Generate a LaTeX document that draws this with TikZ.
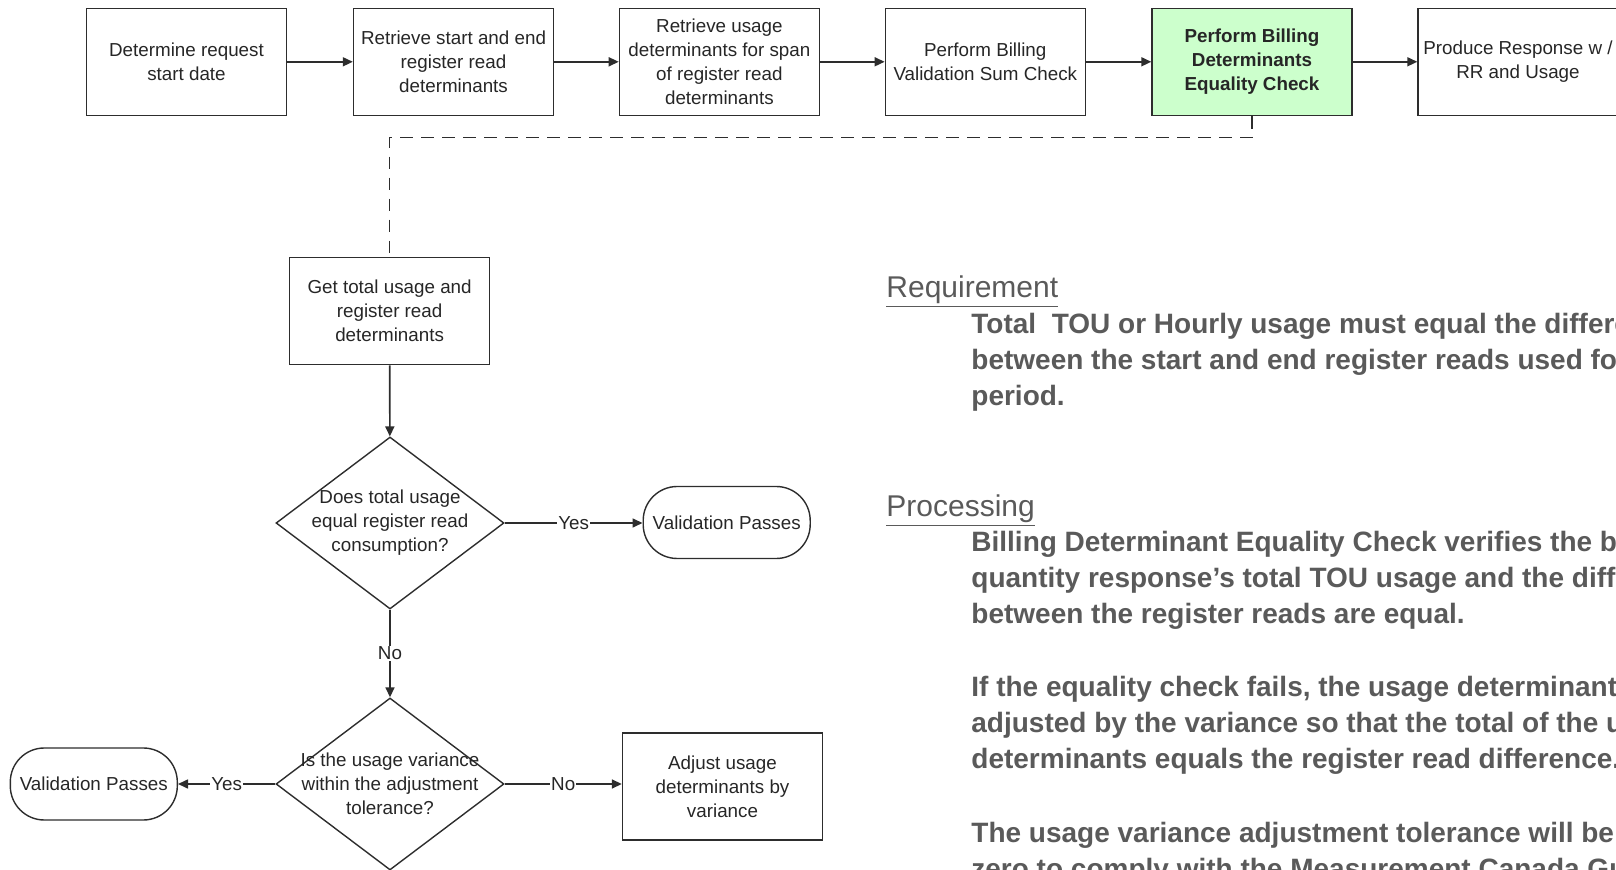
\documentclass[tikz,border=0pt]{standalone}
\usepackage{fontspec}
\setmainfont{Liberation Sans}
\usetikzlibrary{arrows.meta,shapes.geometric}
\definecolor{boxgreen}{RGB}{204,255,204}
\definecolor{linegray}{RGB}{45,45,45}
\definecolor{notegray}{RGB}{90,90,90}

\begin{document}
\begin{tikzpicture}[x=0.5pt,y=-0.5pt,
	every node/.style={font=\fontsize{9.4}{12}\selectfont,text=black!85,align=center},
	process/.style={draw=linegray,line width=0.7pt,minimum width=100pt,minimum height=53.5pt,inner sep=1pt},
	decision/.style={draw=linegray,line width=0.7pt,diamond,minimum width=114pt,minimum height=86pt,inner sep=0pt},
	terminal/.style={draw=linegray,line width=0.7pt,rounded corners=17pt,minimum width=83.5pt,minimum height=36pt},
	flow/.style={draw=linegray,line width=0.8pt,-{Triangle[length=5pt,width=4.5pt]}},
	link/.style={draw=linegray,line width=0.8pt,dash pattern=on 6.3pt off 4.2pt},
	lbl/.style={fill=white,inner sep=0.6pt},
	heading/.style={anchor=west,inner sep=0pt,text=notegray,font=\fontsize{15}{18}\selectfont,align=left},
	note/.style={anchor=west,inner sep=0pt,text=notegray,font=\bfseries\fontsize{14}{18}\selectfont,align=left}]
	\useasboundingbox (0,0) rectangle (1616,870);
	\node[process] (req) at (186.5,61.8) {Determine request\\start date};
	\node[process] (rr) at (453.5,61.8) {Retrieve start and end\\register read\\determinants};
	\node[process] (usage) at (719.4,61.8) {Retrieve usage\\determinants for span\\of register read\\determinants};
	\node[process] (sumchk) at (985.3,61.8) {Perform Billing\\Validation Sum Check};
	\node[process,fill=boxgreen,font=\bfseries\fontsize{9.4}{12}\selectfont] (eqchk) at (1252,61.8) {Perform Billing\\Determinants\\Equality Check};
	\node[process] (resp) at (1518,61.8) {Produce Response w /\\RR and Usage};
	\foreach \a/\b in {req/rr,rr/usage,usage/sumchk,sumchk/eqchk,eqchk/resp}
		\draw[flow] (\a) -- (\b);
	\node[process] (total) at (389.6,311.2) {Get total usage and\\register read\\determinants};
	\draw[link] (eqchk.south) -- ++(0,21.6) -| (total.north);
	\node[decision,label={center:Does total usage\\equal register read\\consumption?}] (equal) at (390,523) {};
	\node[terminal] (pass1) at (726.7,522.5) {Validation Passes};
	\node[decision,label={center:Is the usage variance\\within the adjustment\\tolerance?}] (tol) at (390,784) {};
	\node[terminal] (pass2) at (93.8,784) {Validation Passes};
	\node[process] (adjust) at (722.5,786.4) {Adjust usage\\determinants by\\variance};
	\draw[flow] (total) -- (equal);
	\draw[flow] (equal.east) -- node[lbl] {Yes} (pass1.west |- equal.east);
	\draw[flow] (equal) -- node[lbl] {No} (tol);
	\draw[flow] (tol.west) -- node[lbl] {Yes} (pass2.east |- tol.west);
	\draw[flow] (tol.east) -- node[lbl] {No} (adjust.west |- tol.east);
	\node[heading] (reqhead) at (886,292) {\underline{Requirement}};
	\node[note] (reqtext) at (971,362.7) {Total~ TOU or Hourly usage must equal the difference\\between the start and end register reads used for\\period.};
	\node[heading] (prochead) at (886,511) {\underline{Processing}};
	\node[note] (procA) at (971,580) {Billing Determinant Equality Check verifies the billing\\quantity response’s total TOU usage and the difference\\between the register reads are equal.};
	\node[note] (procB) at (971,725.5) {If the equality check fails, the usage determinants\\adjusted by the variance so that the total of the usage\\determinants equals the register read difference.};
	\node[note] (procC) at (971,852.8) {The usage variance adjustment tolerance will be\\zero to comply with the Measurement Canada Guidelines.};
\end{tikzpicture}
\end{document}
